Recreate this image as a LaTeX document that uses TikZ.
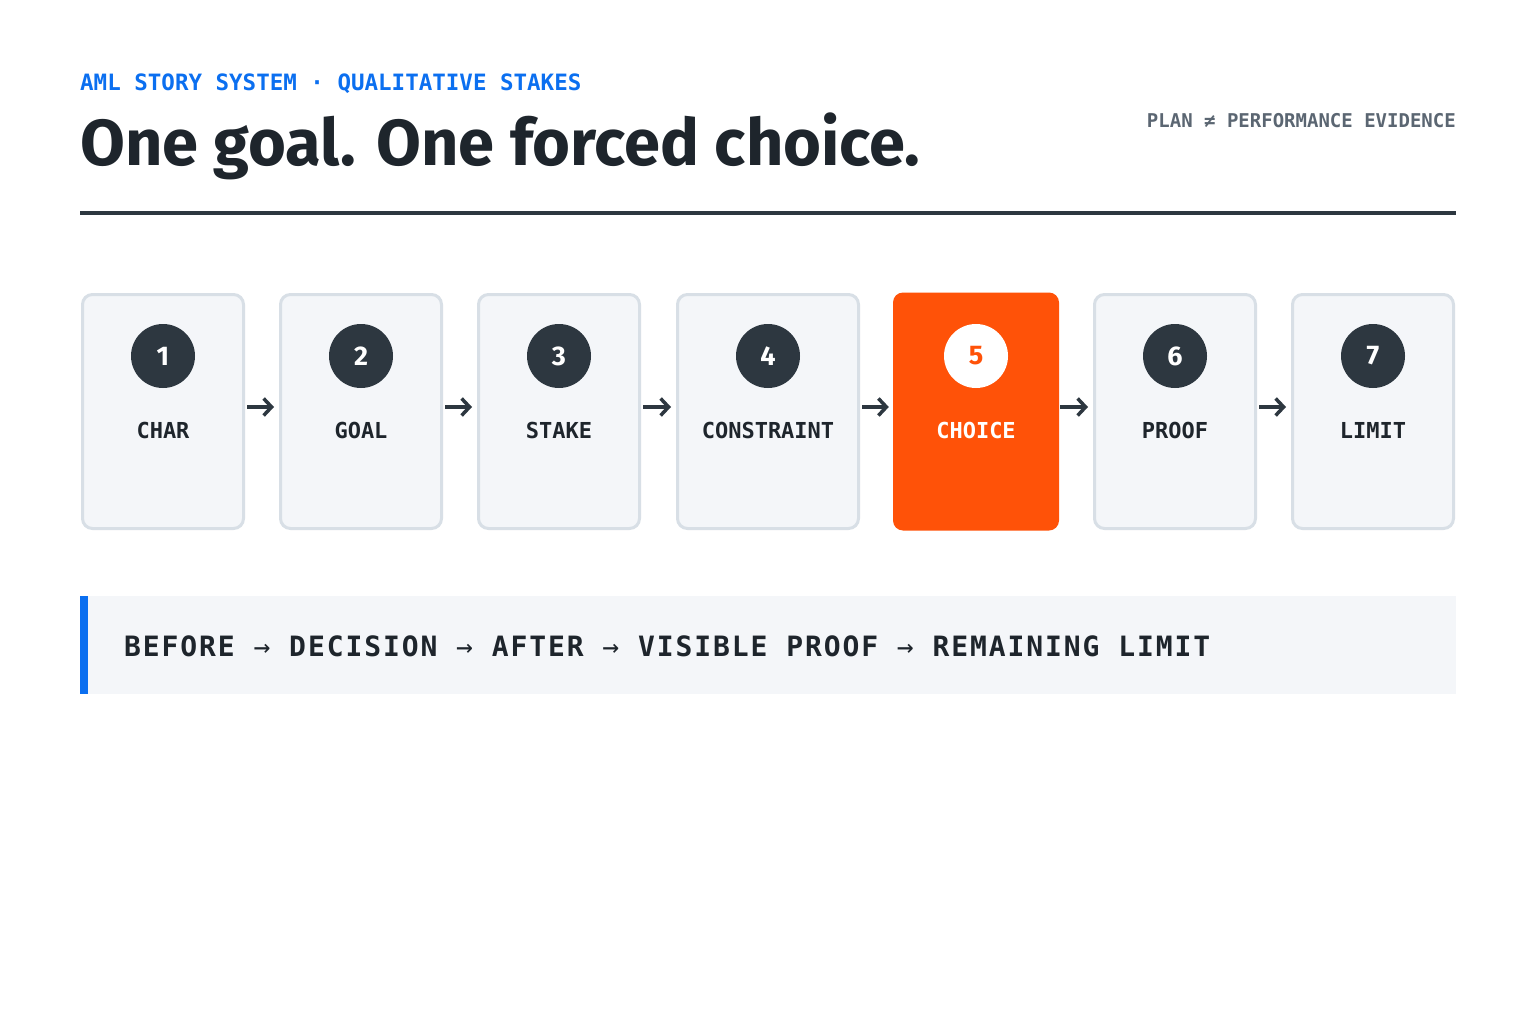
\documentclass[tikz,border=0pt]{standalone}
\usepackage{fontspec}
\setmainfont{Fira Sans}
\setmonofont{DejaVu Sans Mono}
\usetikzlibrary{arrows.meta,positioning}
\definecolor{inkdark}{HTML}{1E252C}
\definecolor{slate}{HTML}{2D3740}
\definecolor{greytext}{HTML}{5B6672}
\definecolor{accentblue}{HTML}{0B6FF0}
\definecolor{cardfill}{HTML}{F4F6F9}
\definecolor{cardline}{HTML}{D8DFE6}
\definecolor{hot}{HTML}{FF5208}
\newcommand{\thenarrow}{{\mdseries →}}
\tikzset{
  card/.style={draw=cardline,line width=3pt,fill=cardfill,rounded corners=10pt,minimum width=161pt,minimum height=234pt,inner sep=0pt},
  hotcard/.style={fill=hot,rounded corners=10pt,minimum width=166pt,minimum height=238pt,inner sep=0pt},
  badge/.style={circle,fill=slate,text=white,minimum size=64pt,inner sep=0pt,font=\fontsize{27}{27}\selectfont\bfseries},
  cardlabel/.style={anchor=base,text=inkdark,inner sep=0pt,font=\fontsize{22}{22}\selectfont\ttfamily\bfseries},
  flow/.style={-{Straight Barb[length=8pt,width=17pt]},line width=3.5pt,draw=slate,shorten <=2pt,shorten >=5pt}
}
\begin{document}
\begin{tikzpicture}[x=1pt,y=-1pt]
  \fill[white] (0,0) rectangle (1536,1024);
  \useasboundingbox (0,0) rectangle (1536,1024);
  % heading
  \path (80,91) node[anchor=base west,inner sep=0pt,text=accentblue,font=\fontsize{22.5}{22.5}\selectfont\ttfamily\bfseries](kicker){AML STORY SYSTEM · QUALITATIVE STAKES};
  \path (80,166) node[anchor=base west,inner sep=0pt,text=inkdark,font=\fontsize{65}{65}\selectfont\bfseries](title){One goal. One forced choice.};
  \path (1456,128) node[anchor=base east,inner sep=0pt,text=greytext,font=\fontsize{19}{19}\selectfont\ttfamily\bfseries](tagline){PLAN ≠ PERFORMANCE EVIDENCE};
  \draw[line width=4pt,slate] (80,213) -- (1456,213);
  % cards
  \path (163,411.5) node[card](c1){} (361,411.5) node[card](c2){} (559,411.5) node[card](c3){}
        (768,411.5) node[card,minimum width=181pt](c4){} (976,411.5) node[hotcard](c5){}
        (1175,411.5) node[card](c6){} (1373,411.5) node[card](c7){};
  \path (163,356) node[badge](n1){1} (361,356) node[badge](n2){2} (559,356) node[badge](n3){3}
        (768,356) node[badge](n4){4} (976,356) node[badge,fill=white,text=hot](n5){5}
        (1175,356) node[badge](n6){6} (1373,356) node[badge](n7){7};
  \path (163,438) node[cardlabel](l1){CHAR} (361,438) node[cardlabel](l2){GOAL} (559,438) node[cardlabel](l3){STAKE}
        (768,438) node[cardlabel](l4){CONSTRAINT} (976,438) node[cardlabel,text=white](l5){CHOICE}
        (1175,438) node[cardlabel](l6){PROOF} (1373,438) node[cardlabel](l7){LIMIT};
  \draw[flow] ([yshift=4.5pt]c1.east) -- ([yshift=4.5pt]c2.west);
  \draw[flow] ([yshift=4.5pt]c2.east) -- ([yshift=4.5pt]c3.west);
  \draw[flow] ([yshift=4.5pt]c3.east) -- ([yshift=4.5pt]c4.west);
  \draw[flow,shorten >=4pt] ([yshift=4.5pt]c4.east) -- ([yshift=4.5pt]c5.west);
  \draw[flow,shorten <=1pt] ([yshift=4.5pt]c5.east) -- ([yshift=4.5pt]c6.west);
  \draw[flow] ([yshift=4.5pt]c6.east) -- ([yshift=4.5pt]c7.west);
  % sequence band
  \path (768,645) node[fill=cardfill,minimum width=1376pt,minimum height=98pt,inner sep=0pt](band){};
  \path (84,645) node[fill=accentblue,minimum width=8pt,minimum height=98pt,inner sep=0pt](bar){};
  \path (124,656) node[anchor=base west,inner sep=0pt,text=inkdark,font=\fontsize{28}{28}\selectfont\ttfamily\bfseries\addfontfeature{LetterSpace=6.8}](sequence){BEFORE \thenarrow{} DECISION \thenarrow{} AFTER \thenarrow{} VISIBLE PROOF \thenarrow{} REMAINING LIMIT};
\end{tikzpicture}
\end{document}
